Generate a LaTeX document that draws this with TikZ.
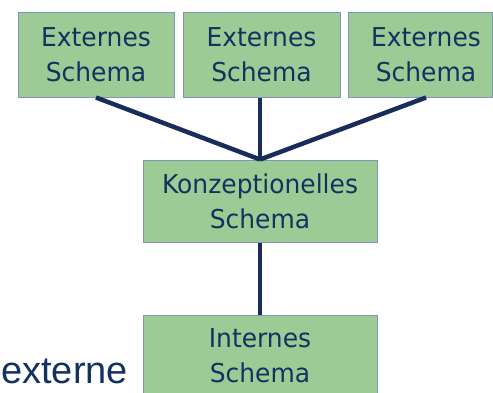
\documentclass[tikz,border=0pt]{standalone}
\usepackage{fontspec}
\setmainfont{Liberation Sans}
\newfontfamily\boxfont[FakeStretch=0.96]{DejaVu Sans}
\definecolor{boxfill}{RGB}{157,203,149}
\definecolor{boxline}{RGB}{128,150,180}
\definecolor{txtcol}{RGB}{20,50,95}
\definecolor{linkcol}{RGB}{25,45,90}
\begin{document}
\begin{tikzpicture}[x=1pt,y=-1pt,
  schemabox/.style={draw=boxline, line width=1pt, fill=boxfill, inner sep=0pt,
    text=txtcol, font=\boxfont\fontsize{26}{35}\selectfont, align=center},
  schematext/.style={inner sep=0pt, text=txtcol, font=\boxfont\fontsize{26}{35}\selectfont, align=center},
  link/.style={draw=linkcol, line width=4.5pt}]
\useasboundingbox (0,0) rectangle (493,392);
\clip (0,0) rectangle (493,392);
\fill[white] (0,0) rectangle (493,392);
\node[schemabox, minimum width=156, minimum height=85] (e1) at (96,54.5) {Externes\\Schema};
\node[schemabox, minimum width=157, minimum height=85] (e2) at (261.5,54.5) {Externes\\Schema};
\node[schemabox, minimum width=144, minimum height=85] (e3) at (420,54.5) {};
\node[schematext] (t3) at (426,54.5) {Externes\\Schema};
\node[schemabox, minimum width=234, minimum height=82] (k) at (260,201) {Konzeptionelles\\Schema};
\node[schemabox, minimum width=234, minimum height=81] (i) at (260,355.5) {Internes\\Schema};
\coordinate (m) at (k.north);
\draw[link] (e1.south) -- (m);
\draw[link] (e2.south -| m) -- (m);
\draw[link] (e3.south -| t3) -- (m);
\draw[link] (k.south) -- (i.north);
\node[anchor=base west, inner sep=0pt, text=txtcol, font=\fontsize{38}{44}\selectfont] (ext) at (1,383) {externe};
\end{tikzpicture}
\end{document}
